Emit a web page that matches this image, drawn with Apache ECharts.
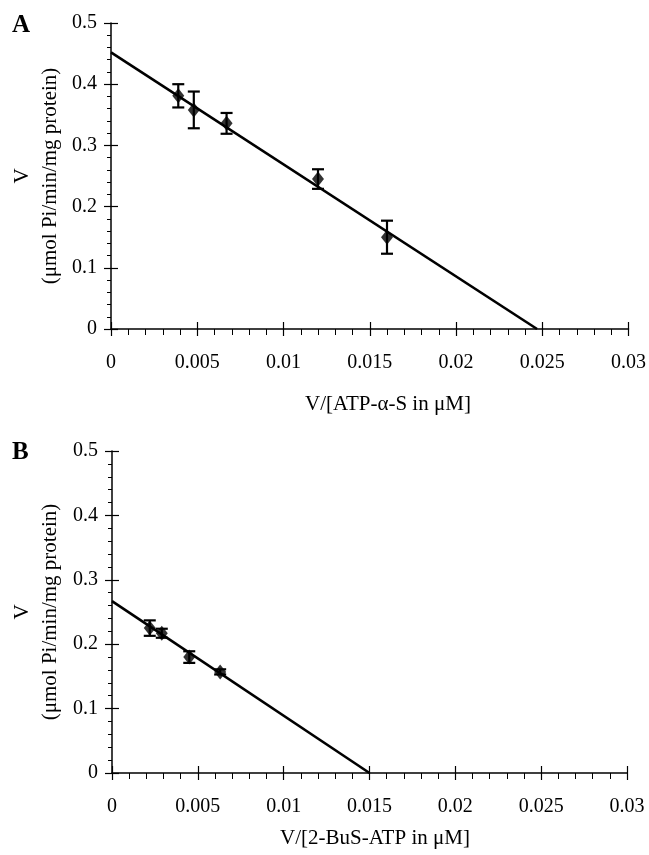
<!DOCTYPE html>
<html>
<head>
<meta charset="utf-8">
<script src="https://cdn.jsdelivr.net/npm/echarts@6/dist/echarts.min.js"></script>
<style>
html,body{margin:0;padding:0;background:#fff;}
#c{width:649px;height:855px;}
</style>
</head>
<body>
<div id="c"></div>
<script>
// ---- Panel A: ATP-α-S ----
const atpX   = [0.0039, 0.0048, 0.0067, 0.0120, 0.0160];
const atpV   = [0.381, 0.358, 0.336, 0.245, 0.150];
const atpErr = [0.019, 0.030, 0.017, 0.016, 0.027];
const atpFitX = [0, 0.0247];
const atpFitV = [0.452, 0];

// ---- Panel B: 2-BuS-ATP ----
const busX   = [0.0022, 0.0029, 0.0045, 0.0063];
const busV   = [0.225, 0.217, 0.180, 0.157];
const busErr = [0.012, 0.007, 0.009, 0.004];
const busFitX = [0, 0.0150];
const busFitV = [0.267, 0];

// axis ranges / tick steps
const xRange = [0, 0.03]; const xStep = 0.005;
const yRange = [0, 0.5];  const yStep = 0.1;

const FONT = 'Liberation Serif';
const chart = echarts.init(document.getElementById('c'), null, {renderer:'canvas'});

function zip(a,b){ return a.map((v,i)=>[v,b[i]]); }
function errData(x,v,e){ return x.map((xx,i)=>[xx, v[i]-e[i], v[i]+e[i]]); }

function xAxes(gi){
  const base = {type:'value', gridIndex:gi, min:xRange[0], max:xRange[1], interval:xStep,
    splitLine:{show:false}};
  return [
    Object.assign({}, base, {
      axisLine:{show:true, onZero:false, lineStyle:{color:'#000', width:1.5}},
      axisTick:{show:true, inside:false, length:7, lineStyle:{color:'#000', width:1.2}},
      minorTick:{show:true, splitNumber:5, length:6, lineStyle:{color:'#000', width:1}},
      axisLabel:{show:true, margin:24, color:'#000', fontFamily:FONT, fontSize:20,
        formatter: v => String(+v.toFixed(4))}
    }),
    Object.assign({}, base, {
      position:'bottom',
      axisLine:{show:false}, axisLabel:{show:false},
      axisTick:{show:true, inside:true, length:7, lineStyle:{color:'#000', width:1.2}}
    })
  ];
}
function yAxes(gi){
  const base = {type:'value', gridIndex:gi, min:yRange[0], max:yRange[1], interval:yStep,
    splitLine:{show:false}};
  return [
    Object.assign({}, base, {
      axisLine:{show:true, onZero:false, lineStyle:{color:'#000', width:1.5}},
      axisTick:{show:true, inside:false, length:7, lineStyle:{color:'#000', width:1.2}},
      minorTick:{show:true, splitNumber:5, length:4, lineStyle:{color:'#000', width:1}},
      axisLabel:{show:true, margin:14, color:'#000', fontFamily:FONT, fontSize:20,
        formatter: v => String(+v.toFixed(2))}
    }),
    Object.assign({}, base, {
      position:'left',
      axisLine:{show:false}, axisLabel:{show:false},
      axisTick:{show:true, inside:true, length:7, lineStyle:{color:'#000', width:1.2}}
    })
  ];
}

function errSeries(xi, yi, data){
  return {
    type:'custom', xAxisIndex:xi, yAxisIndex:yi, data:data, z:3,
    renderItem:function(params, api){
      const x = api.value(0);
      const lo = api.coord([x, api.value(1)]);
      const hi = api.coord([x, api.value(2)]);
      const hw = 6;
      const st = {stroke:'#000', lineWidth:2.2};
      return {type:'group', children:[
        {type:'line', shape:{x1:lo[0], y1:lo[1], x2:hi[0], y2:hi[1]}, style:st},
        {type:'line', shape:{x1:lo[0]-hw, y1:lo[1], x2:lo[0]+hw, y2:lo[1]}, style:st},
        {type:'line', shape:{x1:hi[0]-hw, y1:hi[1], x2:hi[0]+hw, y2:hi[1]}, style:st}
      ]};
    }
  };
}

const option = {
  animation:false,
  backgroundColor:'#fff',
  grid:[
    {left:111, top:23, width:518, height:306},
    {left:112, top:451, width:515, height:322}
  ],
  xAxis:[...xAxes(0), ...xAxes(1)],
  yAxis:[...yAxes(0), ...yAxes(1)],
  series:[
    {type:'line', xAxisIndex:0, yAxisIndex:0, data:zip(atpFitX, atpFitV), showSymbol:false,
      lineStyle:{color:'#000', width:2.6}, z:2},
    errSeries(0, 0, errData(atpX, atpV, atpErr)),
    {type:'scatter', xAxisIndex:0, yAxisIndex:0, data:zip(atpX, atpV), symbol:'diamond',
      symbolSize:[12,15], itemStyle:{color:'#000'}, z:4},
    {type:'line', xAxisIndex:2, yAxisIndex:2, data:zip(busFitX, busFitV), showSymbol:false,
      lineStyle:{color:'#000', width:2.6}, z:2},
    errSeries(2, 2, errData(busX, busV, busErr)),
    {type:'scatter', xAxisIndex:2, yAxisIndex:2, data:zip(busX, busV), symbol:'diamond',
      symbolSize:[12,15], itemStyle:{color:'#000'}, z:4}
  ],
  graphic:[
    {type:'text', left:12, top:13, style:{text:'A', font:'bold 25px "Liberation Serif"', fill:'#000'}},
    {type:'text', left:12, top:440, style:{text:'B', font:'bold 25px "Liberation Serif"', fill:'#000'}},
    {type:'text', x:36, y:176, rotation:Math.PI/2,
      style:{text:'V\n(μmol Pi/min/mg protein)', font:'21px "Liberation Serif"', lineHeight:28,
        fill:'#000', align:'center', verticalAlign:'middle'}},
    {type:'text', x:36, y:612, rotation:Math.PI/2,
      style:{text:'V\n(μmol Pi/min/mg protein)', font:'21px "Liberation Serif"', lineHeight:28,
        fill:'#000', align:'center', verticalAlign:'middle'}},
    {type:'text', x:388, y:404,
      style:{text:'V/[ATP-α-S in μM]', font:'21px "Liberation Serif"', fill:'#000',
        align:'center', verticalAlign:'middle'}},
    {type:'text', x:375, y:838,
      style:{text:'V/[2-BuS-ATP in μM]', font:'21px "Liberation Serif"', fill:'#000',
        align:'center', verticalAlign:'middle'}}
  ]
};
chart.setOption(option);
</script>
</body>
</html>
